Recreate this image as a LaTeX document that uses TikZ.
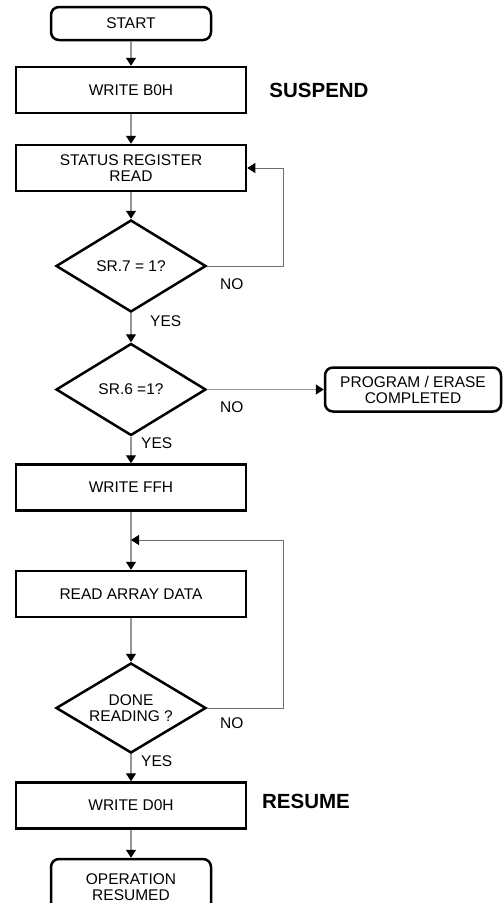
\documentclass[tikz,border=0pt]{standalone}
\usepackage{fontspec}
\setmainfont{Liberation Sans}
\usetikzlibrary{shapes.geometric,arrows.meta}
\definecolor{flowgray}{RGB}{150,150,150}
\definecolor{loopgray}{RGB}{110,110,110}
\begin{document}
\begin{tikzpicture}[x=1pt,y=-1pt,
  font=\fontsize{15.5}{16}\selectfont,
  box/.style={draw,line width=2.5pt,minimum width=230pt,minimum height=46pt,align=center,inner sep=0pt},
  term/.style={box,rounded corners=8pt,minimum width=160pt,minimum height=33pt},
  test/.style={draw,line width=2.5pt,diamond,aspect=1.63,minimum width=150pt,minimum height=92pt,align=center,inner sep=0pt},
  flow/.style={draw=flowgray,line width=1.4pt,-{Triangle[length=8pt,width=10pt,color=black]}},
  back/.style={draw=loopgray,line width=0.8pt,-{Triangle[length=8pt,width=10pt,color=black]}},
  tag/.style={anchor=west,inner sep=0pt},
  phase/.style={font=\fontsize{20.5}{22}\selectfont\bfseries}]
\useasboundingbox (0,0) rectangle (503,903);
\node[term] (start) at (131,23.5) {START};
\node[box] (b0h) at (131,90) {WRITE B0H};
\node[box] (srr) at (131,168) {STATUS REGISTER\\READ};
\node[test] (sr7) at (131,266) {SR.7 = 1?};
\node[test] (sr6) at (131,389.5) {SR.6 =1?};
\node[term,minimum width=176pt,minimum height=44pt] (pec) at (413,389.5) {PROGRAM / ERASE\\COMPLETED};
\node[box] (ffh) at (131,487.5) {WRITE FFH};
\coordinate (join) at (131,540);
\node[box] (rad) at (131,594) {READ ARRAY DATA};
\node[test,minimum height=90pt] (done) at (131,708) {DONE\\READING ?};
\node[box] (d0h) at (131,805.5) {WRITE D0H};
\node[term,minimum height=56pt] (opr) at (131,887) {OPERATION\\RESUMED};
\node[phase] (suspend) at (319,90) {SUSPEND};
\node[phase] (resume) at (306,801) {RESUME};
\node[tag] (yes7) at (150,321) {YES};
\node[tag] (no7) at (220,284) {NO};
\node[tag] (yes6) at (141,443) {YES};
\node[tag] (no6) at (220,407) {NO};
\node[tag] (yesd) at (141,761) {YES};
\node[tag] (nod) at (220,723) {NO};
\draw[flow] (start) -- (b0h);
\draw[flow] (b0h) -- (srr);
\draw[flow] (srr) -- (sr7);
\draw[flow] (sr7) -- (sr6);
\draw[flow] (sr6.east) -- (pec.west);
\draw[flow] (sr6) -- (ffh);
\draw[flow] (ffh) -- (rad);
\draw[flow] (rad) -- (done);
\draw[flow] (done) -- (d0h);
\draw[flow] (d0h) -- (opr);
\draw[back] (sr7.east) -- ++(76,0) |- (srr.east);
\draw[back] (done.east) -- ++(76,0) |- (join);
\end{tikzpicture}
\end{document}
